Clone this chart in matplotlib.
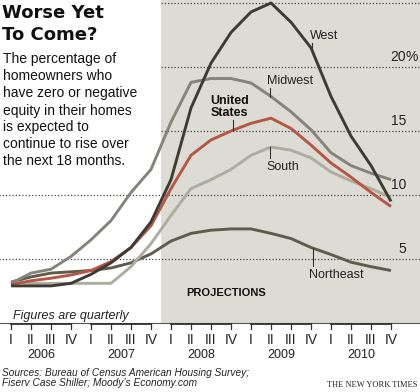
import matplotlib
matplotlib.use("Agg")
import matplotlib.pyplot as plt

# ---- data ----
quarter_labels = ["I", "II", "III", "IV"]
years = ["2006", "2007", "2008", "2009", "2010"]
west = [2.9, 2.9, 2.9, 3.1, 3.8, 4.7, 5.9, 7.9, 11.2, 16.8, 20.3, 22.7, 24.3, 25.0, 23.5, 21.5, 17.7, 14.6, 12.3, 9.5]
midwest = [3.1, 3.9, 4.2, 5.2, 6.5, 8.0, 10.2, 12.0, 15.7, 18.8, 19.1, 19.1, 18.75, 17.7, 16.5, 15.1, 13.3, 12.3, 11.7, 11.2]
us = [3.0, 3.3, 3.5, 3.75, 4.1, 4.8, 5.9, 7.6, 10.5, 13.1, 14.3, 15.0, 15.6, 16.0, 15.2, 13.9, 12.5, 11.4, 10.2, 9.1]
south = [3.2, 3.1, 3.1, 3.1, 3.1, 3.1, 4.4, 6.2, 8.4, 10.5, 11.2, 12.0, 13.1, 13.75, 13.5, 12.9, 11.8, 11.1, 10.5, 9.8]
northeast = [3.2, 3.6, 3.9, 4.0, 4.1, 4.3, 4.7, 5.4, 6.4, 7.0, 7.25, 7.35, 7.35, 7.0, 6.6, 5.9, 5.35, 4.75, 4.4, 4.1]
grid_full = [5, 10]
grid_proj = [15, 20, 25]
grid_labels = {5: "5", 10: "10", 15: "15", 20: "20"}
projection_start = 7.5

W, H = 420, 392
fig = plt.figure(figsize=(W / 100, H / 100), dpi=100)
fig.patch.set_facecolor("white")

SANS = ["Liberation Sans", "DejaVu Sans"]

def fx(x):
    return x / W

def fy(y):
    return 1 - y / H

ax = fig.add_axes([0, fy(323), 1, 323 / H])
ax.set_xlim((0 - 11) / 20, (420 - 11) / 20)
ax.set_ylim(0, 323 / 12.8)
ax.axis("off")

n = len(us)
xs = list(range(n))

ax.axvspan(projection_start, 30, color="#dddcd4", zorder=0, lw=0)

for g in grid_full:
    ax.hlines(g, -5, 30, colors="#444444", linestyles=(0, (1, 1.6)), lw=0.9, zorder=1)
for g in grid_proj:
    ax.hlines(g, projection_start, 30, colors="#444444", linestyles=(0, (1, 1.6)), lw=0.9, zorder=1)

for g, lab in grid_labels.items():
    ax.text(19.75, g + 0.25, lab, ha="right", va="bottom", fontsize=10, family=SANS, color="#222222")
ax.text(19.75, 20.25, "%", ha="left", va="bottom", fontsize=10, family=SANS, color="#222222")

lw = 2.1
ax.plot(xs, northeast, color="#5f5c4e", lw=lw, zorder=3, solid_capstyle="butt")
ax.plot(xs, south, color="#aeac9e", lw=lw, zorder=3, solid_capstyle="butt")
ax.plot(xs, midwest, color="#86837a", lw=lw, zorder=3, solid_capstyle="butt")
ax.plot(xs, us, color="#b65745", lw=lw, zorder=4, solid_capstyle="butt")
ax.plot(xs, west, color="#3e3c32", lw=lw, zorder=5, solid_capstyle="butt")

def P(x, y):
    return ((x - 11) / 20, (323 - y) / 12.8)

def leader(x, y0, y1):
    a = P(x, y0)
    b = P(x, y1)
    ax.plot([a[0], b[0]], [a[1], b[1]], color="#333333", lw=0.8, zorder=6)

lab_kw = dict(ha="center", va="center", fontsize=9, family=SANS, color="#222222", zorder=7)
ax.text(*P(324, 36), "West", **lab_kw)
leader(312, 43, 49)
ax.text(*P(290, 81), "Midwest", **lab_kw)
leader(270, 88, 97)
ax.text(*P(229.5, 107.5), "United\nStates", ha="center", va="center", fontsize=9,
        family=SANS, fontweight="bold", color="#111111", linespacing=1.0, zorder=7)
leader(233, 120, 130)
ax.text(*P(283, 167), "South", **lab_kw)
leader(270, 147, 158)
ax.text(*P(336.5, 275), "Northeast", **lab_kw)
leader(313, 248, 266)
ax.text(*P(226, 292.5), "PROJECTIONS", ha="center", va="center", fontsize=8,
        family=SANS, fontweight="bold", color="#111111", zorder=7)

# axis line and year brackets
ax.plot([-5, 30], [0, 0], color="#555555", lw=0.8, clip_on=False, zorder=6)
for k, yr in enumerate(years):
    q0 = 4 * k
    q = [q0 + j for j in range(4)]
    ax.plot([q[0], q[-1]], [-0.06, -0.06], color="#333333", lw=1.3, clip_on=False, zorder=6)
    for j, qq in enumerate(q):
        ax.plot([qq, qq], [-0.06, -0.5], color="#333333", lw=0.9, clip_on=False, zorder=6)
        fig.text(fx(11 + 20 * qq), fy(344.5), quarter_labels[j], ha="center", va="baseline",
                 fontsize=10, family=SANS, color="#222222")
    fig.text(fx(11 + 20 * (q0 + 1.5)), fy(358.5), yr, ha="center", va="baseline",
             fontsize=9, family=SANS, color="#222222")

fig.text(fx(13), fy(318.5), "Figures are quarterly", ha="left", va="baseline",
         fontsize=9, family=SANS, style="italic", color="#222222")

# title and intro
fig.text(fx(2), fy(18), "Worse Yet", ha="left", va="baseline", fontsize=13,
         family=["DejaVu Sans"], fontweight="bold", color="#111111")
fig.text(fx(2), fy(40.5), "To Come?", ha="left", va="baseline", fontsize=13,
         family=["DejaVu Sans"], fontweight="bold", color="#111111")
intro = ["The percentage of", "homeowners who", "have zero or negative",
         "equity in their homes", "is expected to", "continue to rise over",
         "the next 18 months."]
for k, line in enumerate(intro):
    fig.text(fx(3), fy(63.5 + 17 * k), line, ha="left", va="baseline", fontsize=10,
             family=SANS, color="#111111")

fig.text(fx(2), fy(375.5), "Sources: Bureau of Census American Housing Survey;", ha="left",
         va="baseline", fontsize=7.3, family=SANS, style="italic", color="#222222")
fig.text(fx(2), fy(386.5), "Fiserv Case Shiller; Moody\u2019s Economy.com", ha="left",
         va="baseline", fontsize=7.3, family=SANS, style="italic", color="#222222")
fig.text(fx(417), fy(387), "THE NEW YORK TIMES", ha="right", va="baseline", fontsize=6,
         family=["Liberation Serif", "DejaVu Serif"], color="#222222")

fig.savefig("out.png", dpi=100, facecolor="white")
